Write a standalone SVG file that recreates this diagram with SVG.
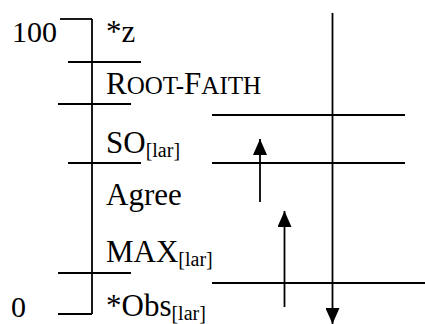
<svg xmlns="http://www.w3.org/2000/svg" width="425" height="324" viewBox="0 0 425 324">
<style>
.l{stroke:#000;stroke-width:1.8;fill:none}
.t{font-family:"Liberation Serif","Times New Roman",serif;font-size:31px;fill:#000}
.n{font-size:30px}
.s{font-size:20px}
.sc{font-size:25px}
</style>
<defs>
<marker id="ah" viewBox="0 0 16 14" refX="16" refY="7" markerWidth="16" markerHeight="14" markerUnits="userSpaceOnUse" orient="auto">
<path d="M0,0 L16,7 L0,14 Z" fill="#000"/>
</marker>
</defs>
<g id="scale">
<line class="l" x1="92" y1="19" x2="92" y2="314"/>
<line class="l" x1="60" y1="19" x2="92" y2="19"/>
<line class="l" x1="68" y1="62" x2="141" y2="62"/>
<line class="l" x1="58" y1="104" x2="131" y2="104"/>
<line class="l" x1="68" y1="163" x2="141" y2="163"/>
<line class="l" x1="58" y1="273" x2="131" y2="273"/>
<line class="l" x1="58" y1="314" x2="92" y2="314"/>
<text class="t n" x="12" y="42">100</text>
<text class="t n" x="11" y="317">0</text>
</g>
<g id="labels">
<text class="t" x="106" y="42">*z</text>
<text class="t" x="106" y="94">R<tspan class="sc">OOT-</tspan>F<tspan class="sc">AITH</tspan></text>
<text class="t" x="106" y="153">SO<tspan class="s" dy="4">[lar]</tspan></text>
<text class="t" x="106" y="205">Agree</text>
<text class="t" x="106" y="262">MAX<tspan class="s" dy="4">[lar]</tspan></text>
<text class="t" x="106" y="316">*Obs<tspan class="s" dy="4">[lar]</tspan></text>
</g>
<g id="connectors">
<line class="l" x1="212" y1="115" x2="405" y2="115"/>
<line class="l" x1="212" y1="163" x2="405" y2="163"/>
<line class="l" x1="212" y1="283" x2="425" y2="283"/>
<line class="l" x1="332.5" y1="13" x2="332.5" y2="324" marker-end="url(#ah)"/>
<line class="l" x1="260" y1="202" x2="260" y2="139" marker-end="url(#ah)"/>
<line class="l" x1="284.5" y1="307" x2="284.5" y2="211" marker-end="url(#ah)"/>
</g>
</svg>
